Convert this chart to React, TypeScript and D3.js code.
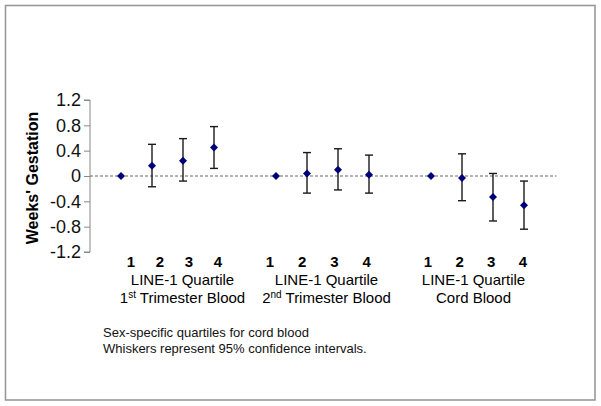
import { useEffect, useRef } from "react";
import * as d3 from "d3";

const groups = ["1st Trimester Blood", "2nd Trimester Blood", "Cord Blood"];
const quartiles = ["1", "2", "3", "4"];
// estimate, lower, upper per group (quartile 1 is the reference)
const est1 = [0, 0.16, 0.24, 0.45];
const lo1 = [null, -0.17, -0.08, 0.12];
const hi1 = [null, 0.5, 0.59, 0.78];
const est2 = [0, 0.04, 0.1, 0.02];
const lo2 = [null, -0.27, -0.22, -0.27];
const hi2 = [null, 0.37, 0.43, 0.33];
const est3 = [0, -0.03, -0.33, -0.46];
const lo3 = [null, -0.39, -0.71, -0.84];
const hi3 = [null, 0.35, 0.04, -0.08];
const yTicks = [1.2, 0.8, 0.4, 0, -0.4, -0.8, -1.2];
const notes = [
  "Sex-specific quartiles for cord blood",
  "Whiskers represent 95% confidence intervals.",
];

const W = 601;
const H = 406;
const FONT = "Liberation Sans, Arial, sans-serif";
// small per-group nudges of the text block under each group
const numOffset = [10, -6, -3];
const titleOffset = [15, 4, -4];

export default function App() {
  const ref = useRef<SVGSVGElement>(null);

  useEffect(() => {
    const svg = d3.select(ref.current);
    svg.selectAll("*").remove();

    const x = d3.scaleLinear().domain([0, 15]).range([90, 555]);
    const y = d3.scaleLinear().domain([-1.2, 1.2]).range([252, 100]);

    // outer frame
    svg
      .append("rect")
      .attr("x", 5.5)
      .attr("y", 5.5)
      .attr("width", 589.5)
      .attr("height", 394.5)
      .attr("fill", "none")
      .attr("stroke", "#999")
      .attr("stroke-width", 1.6);

    // y axis
    const axis = d3
      .axisLeft(y)
      .tickValues(yTicks)
      .tickSize(6)
      .tickPadding(3)
      .tickFormat((d) => String(d));
    const ga = svg.append("g").attr("transform", `translate(${x(0)},0)`).call(axis);
    ga.selectAll("path, line").attr("stroke", "#888");
    ga.select(".domain").attr("d", `M-6,${y(1.2)}H0V${y(-1.2)}H-6`);
    ga.selectAll("text")
      .attr("font-family", FONT)
      .attr("font-size", 18)
      .attr("fill", "#111");

    svg
      .append("text")
      .attr("transform", `translate(38,${(y(1.2) + y(-1.2)) / 2 + 2}) rotate(-90)`)
      .attr("text-anchor", "middle")
      .attr("font-family", FONT)
      .attr("font-size", 16)
      .attr("font-weight", "bold")
      .text("Weeks' Gestation");

    // zero reference line
    svg
      .append("line")
      .attr("x1", x(0))
      .attr("x2", x(15.05))
      .attr("y1", y(0))
      .attr("y2", y(0))
      .attr("stroke", "#666")
      .attr("stroke-width", 1)
      .attr("stroke-dasharray", "3,2");

    const series = [
      [est1, lo1, hi1],
      [est2, lo2, hi2],
      [est3, lo3, hi3],
    ];

    series.forEach(([est, lo, hi], g) => {
      est.forEach((v, i) => {
        const cx = x(g * 5 + i + 1);
        const l = lo[i];
        const h = hi[i];
        if (l !== null && h !== null) {
          const w = svg.append("g").attr("stroke", "#1a1a1a").attr("stroke-width", 1.4);
          w.append("line").attr("x1", cx).attr("x2", cx).attr("y1", y(h)).attr("y2", y(l));
          w.append("line").attr("x1", cx - 4).attr("x2", cx + 4).attr("y1", y(h)).attr("y2", y(h));
          w.append("line").attr("x1", cx - 4).attr("x2", cx + 4).attr("y1", y(l)).attr("y2", y(l));
        }
        svg
          .append("path")
          .attr("d", d3.symbol(d3.symbolSquare, 32)())
          .attr("transform", `translate(${cx},${y(v)}) rotate(45)`)
          .attr("fill", "#00007a");
      });

      quartiles.forEach((q, i) => {
        svg
          .append("text")
          .attr("x", x(g * 5 + i + 1) + numOffset[g] * (1 - i * 0.2))
          .attr("y", 267)
          .attr("text-anchor", "middle")
          .attr("font-family", FONT)
          .attr("font-size", 15)
          .attr("font-weight", "bold")
          .text(q);
      });

      const cx = x(g * 5 + 2.5) + titleOffset[g];
      svg
        .append("text")
        .attr("x", cx)
        .attr("y", 285)
        .attr("text-anchor", "middle")
        .attr("font-family", FONT)
        .attr("font-size", 15)
        .text("LINE-1 Quartile");

      const t = svg
        .append("text")
        .attr("x", cx)
        .attr("y", 303)
        .attr("text-anchor", "middle")
        .attr("font-family", FONT)
        .attr("font-size", 15);
      const m = groups[g].match(/^(\d)(st|nd|rd|th)(.*)$/);
      if (m) {
        t.append("tspan").text(m[1]);
        t.append("tspan").attr("font-size", 10).attr("dy", -5).text(m[2]);
        t.append("tspan").attr("dy", 5).text(m[3]);
      } else {
        t.text(groups[g]);
      }
    });

    notes.forEach((n, i) => {
      svg
        .append("text")
        .attr("x", 103)
        .attr("y", 337 + i * 16)
        .attr("font-family", FONT)
        .attr("font-size", 13)
        .attr("fill", "#111")
        .text(n);
    });
  }, []);

  return (
    <svg
      ref={ref}
      width={W}
      height={H}
      style={{ position: "absolute", left: 0, top: 0, background: "#fff" }}
    />
  );
}
